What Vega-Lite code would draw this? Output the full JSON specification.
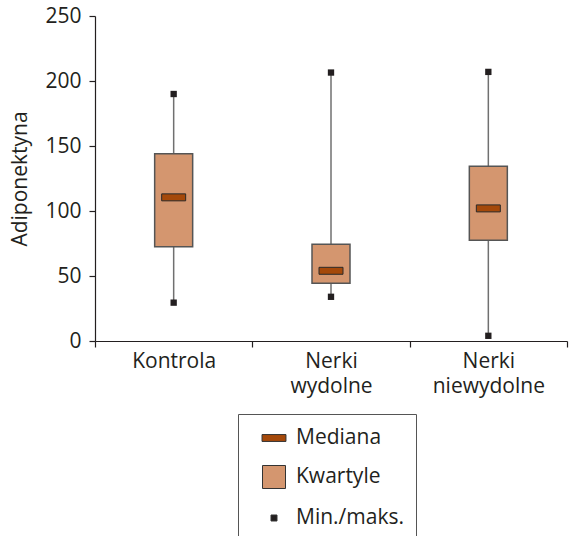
{
  "$schema": "https://vega.github.io/schema/vega-lite/v6.json",
  "autosize": "none",
  "width": 472,
  "height": 325,
  "padding": {"left": 95, "top": 16, "right": 3, "bottom": 195},
  "config": {
    "font": "Open Sans",
    "view": {"stroke": null},
    "axis": {"domainColor": "#231f20", "tickColor": "#231f20", "labelColor": "#231f20", "titleColor": "#231f20", "labelFontSize": 21, "titleFontSize": 21, "titleFontWeight": "normal", "grid": false, "tickSize": 6, "domainWidth": 1.2, "tickWidth": 1.2}
  },
  "datasets": {
    "stats": [
      {"group": "Kontrola", "min": 29.5, "q1": 72.5, "median": 110.5, "q3": 144, "max": 190},
      {"group": "Nerki wydolne", "min": 34, "q1": 44.5, "median": 54, "q3": 74.5, "max": 206.5},
      {"group": "Nerki niewydolne", "min": 4, "q1": 77.5, "median": 102, "q3": 134.5, "max": 207}
    ],
    "legend": [
      {"item": "Mediana"},
      {"item": "Kwartyle"},
      {"item": "Min./maks."}
    ]
  },
  "layer": [
    {
      "data": {"name": "stats"},
      "mark": {"type": "rule", "stroke": "#707070", "strokeWidth": 1.5},
      "encoding": {
        "x": {"field": "group", "type": "nominal", "sort": null, "scale": {"paddingInner": 0, "paddingOuter": 0},
          "axis": {"title": null, "labelAngle": 0, "labelExpr": "split(datum.label, ' ')", "labelLineHeight": 25, "labelPadding": 3, "tickBand": "extent"}},
        "y": {"field": "min", "type": "quantitative", "scale": {"domain": [0, 250], "nice": false},
          "axis": {"title": "Adiponektyna", "values": [0, 50, 100, 150, 200, 250], "labelPadding": 8, "titlePadding": 14}},
        "y2": {"field": "max"}
      }
    },
    {
      "data": {"name": "stats"},
      "mark": {"type": "bar", "size": 38, "fill": "#d4966f", "stroke": "#555555", "strokeWidth": 1.5},
      "encoding": {
        "x": {"field": "group", "type": "nominal", "sort": null},
        "y": {"field": "q1", "type": "quantitative"},
        "y2": {"field": "q3"}
      }
    },
    {
      "data": {"name": "stats"},
      "mark": {"type": "point", "shape": "M-1,-0.29H1V0.29H-1Z", "size": 576, "filled": true, "fill": "#a5490a", "stroke": "#2a2a2a", "strokeWidth": 1, "opacity": 1},
      "encoding": {
        "x": {"field": "group", "type": "nominal", "sort": null},
        "y": {"field": "median", "type": "quantitative"}
      }
    },
    {
      "data": {"name": "stats"},
      "mark": {"type": "point", "shape": "square", "size": 40, "filled": true, "fill": "#231f20", "opacity": 1},
      "encoding": {
        "x": {"field": "group", "type": "nominal", "sort": null},
        "y": {"field": "min", "type": "quantitative"}
      }
    },
    {
      "data": {"name": "stats"},
      "mark": {"type": "point", "shape": "square", "size": 40, "filled": true, "fill": "#231f20", "opacity": 1},
      "encoding": {
        "x": {"field": "group", "type": "nominal", "sort": null},
        "y": {"field": "max", "type": "quantitative"}
      }
    },
    {
      "data": {"name": "legend"},
      "mark": {"type": "point", "filled": true, "opacity": 0},
      "encoding": {
        "color": {"field": "item", "type": "nominal", "sort": null,
          "scale": {"domain": ["Mediana", "Kwartyle", "Min./maks."], "range": ["#a5490a", "#d4966f", "#231f20"]},
          "legend": {"title": null, "orient": "none", "legendX": 143, "legendY": 398, "direction": "vertical",
            "strokeColor": "#555555", "padding": 12, "symbolSize": 529, "symbolOpacity": 1, "symbolStrokeColor": "#333333", "symbolStrokeWidth": 1,
            "labelFontSize": 21, "labelColor": "#231f20", "labelOffset": 10, "rowPadding": 15, "symbolOffset": 12, "labelLimit": 200,
            "encode": {"symbols": {"update": {"opacity": {"value": 1}, "fillOpacity": {"value": 1}, "strokeOpacity": {"value": 1}}}}}},
        "shape": {"field": "item", "type": "nominal", "sort": null,
          "scale": {"domain": ["Mediana", "Kwartyle", "Min./maks."], "range": ["M-1.04,-0.3H1.04V0.3H-1.04Z", "M-1,-1H1V1H-1Z", "M-0.26,-0.26H0.26V0.26H-0.26Z"]}}
      }
    }
  ]
}
